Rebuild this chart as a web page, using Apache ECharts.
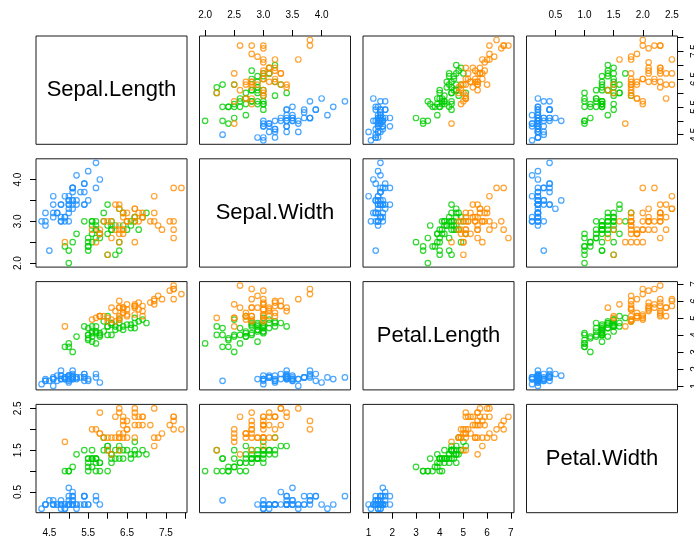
<!DOCTYPE html>
<html>
<head>
<meta charset="utf-8">
<script src="https://cdn.jsdelivr.net/npm/echarts@6/dist/echarts.min.js"></script>
<style>
  html, body { margin: 0; padding: 0; background: #fff; }
  #chart { width: 694px; height: 543px; }
</style>
</head>
<body>
<div id="chart"></div>
<script>
// Edgar Anderson's iris measurements, one array per species and variable
const setosaSepalLength = [5.1,4.9,4.7,4.6,5.0,5.4,4.6,5.0,4.4,4.9,5.4,4.8,4.8,4.3,5.8,5.7,5.4,5.1,5.7,5.1,5.4,5.1,4.6,5.1,4.8,5.0,5.0,5.2,5.2,4.7,4.8,5.4,5.2,5.5,4.9,5.0,5.5,4.9,4.4,5.1,5.0,4.5,4.4,5.0,5.1,4.8,5.1,4.6,5.3,5.0];
const setosaSepalWidth  = [3.5,3.0,3.2,3.1,3.6,3.9,3.4,3.4,2.9,3.1,3.7,3.4,3.0,3.0,4.0,4.4,3.9,3.5,3.8,3.8,3.4,3.7,3.6,3.3,3.4,3.0,3.4,3.5,3.4,3.2,3.1,3.4,4.1,4.2,3.1,3.2,3.5,3.6,3.0,3.4,3.5,2.3,3.2,3.5,3.8,3.0,3.8,3.2,3.7,3.3];
const setosaPetalLength = [1.4,1.4,1.3,1.5,1.4,1.7,1.4,1.5,1.4,1.5,1.5,1.6,1.4,1.1,1.2,1.5,1.3,1.4,1.7,1.5,1.7,1.5,1.0,1.7,1.9,1.6,1.6,1.5,1.4,1.6,1.6,1.5,1.5,1.4,1.5,1.2,1.3,1.4,1.3,1.5,1.3,1.3,1.3,1.6,1.9,1.4,1.6,1.4,1.5,1.4];
const setosaPetalWidth  = [0.2,0.2,0.2,0.2,0.2,0.4,0.3,0.2,0.2,0.1,0.2,0.2,0.1,0.1,0.2,0.4,0.4,0.3,0.3,0.3,0.2,0.4,0.2,0.5,0.2,0.2,0.4,0.2,0.2,0.2,0.2,0.4,0.1,0.2,0.2,0.2,0.2,0.1,0.2,0.2,0.3,0.3,0.2,0.6,0.4,0.3,0.2,0.2,0.2,0.2];

const versicolorSepalLength = [7.0,6.4,6.9,5.5,6.5,5.7,6.3,4.9,6.6,5.2,5.0,5.9,6.0,6.1,5.6,6.7,5.6,5.8,6.2,5.6,5.9,6.1,6.3,6.1,6.4,6.6,6.8,6.7,6.0,5.7,5.5,5.5,5.8,6.0,5.4,6.0,6.7,6.3,5.6,5.5,5.5,6.1,5.8,5.0,5.6,5.7,5.7,6.2,5.1,5.7];
const versicolorSepalWidth  = [3.2,3.2,3.1,2.3,2.8,2.8,3.3,2.4,2.9,2.7,2.0,3.0,2.2,2.9,2.9,3.1,3.0,2.7,2.2,2.5,3.2,2.8,2.5,2.8,2.9,3.0,2.8,3.0,2.9,2.6,2.4,2.4,2.7,2.7,3.0,3.4,3.1,2.3,3.0,2.5,2.6,3.0,2.6,2.3,2.7,3.0,2.9,2.9,2.5,2.8];
const versicolorPetalLength = [4.7,4.5,4.9,4.0,4.6,4.5,4.7,3.3,4.6,3.9,3.5,4.2,4.0,4.7,3.6,4.4,4.5,4.1,4.5,3.9,4.8,4.0,4.9,4.7,4.3,4.4,4.8,5.0,4.5,3.5,3.8,3.7,3.9,5.1,4.5,4.5,4.7,4.4,4.1,4.0,4.4,4.6,4.0,3.3,4.2,4.2,4.2,4.3,3.0,4.1];
const versicolorPetalWidth  = [1.4,1.5,1.5,1.3,1.5,1.3,1.6,1.0,1.3,1.4,1.0,1.5,1.0,1.4,1.3,1.4,1.5,1.0,1.5,1.1,1.8,1.3,1.5,1.2,1.3,1.4,1.4,1.7,1.5,1.0,1.1,1.0,1.2,1.6,1.5,1.6,1.5,1.3,1.3,1.3,1.2,1.4,1.2,1.0,1.3,1.2,1.3,1.3,1.1,1.3];

const virginicaSepalLength = [6.3,5.8,7.1,6.3,6.5,7.6,4.9,7.3,6.7,7.2,6.5,6.4,6.8,5.7,5.8,6.4,6.5,7.7,7.7,6.0,6.9,5.6,7.7,6.3,6.7,7.2,6.2,6.1,6.4,7.2,7.4,7.9,6.4,6.3,6.1,7.7,6.3,6.4,6.0,6.9,6.7,6.9,5.8,6.8,6.7,6.7,6.3,6.5,6.2,5.9];
const virginicaSepalWidth  = [3.3,2.7,3.0,2.9,3.0,3.0,2.5,2.9,2.5,3.6,3.2,2.7,3.0,2.5,2.8,3.2,3.0,3.8,2.6,2.2,3.2,2.8,2.8,2.7,3.3,3.2,2.8,3.0,2.8,3.0,2.8,3.8,2.8,2.8,2.6,3.0,3.4,3.1,3.0,3.1,3.1,3.1,2.7,3.2,3.3,3.0,2.5,3.0,3.4,3.0];
const virginicaPetalLength = [6.0,5.1,5.9,5.6,5.8,6.6,4.5,6.3,5.8,6.1,5.1,5.3,5.5,5.0,5.1,5.3,5.5,6.7,6.9,5.0,5.7,4.9,6.7,4.9,5.7,6.0,4.8,4.9,5.6,5.8,6.1,6.4,5.6,5.1,5.6,6.1,5.6,5.5,4.8,5.4,5.6,5.1,5.1,5.9,5.7,5.2,5.0,5.2,5.4,5.1];
const virginicaPetalWidth  = [2.5,1.9,2.1,1.8,2.2,2.1,1.7,1.8,1.8,2.5,2.0,1.9,2.1,2.0,2.4,2.3,1.8,2.2,2.3,1.5,2.3,2.0,2.0,1.8,2.1,1.8,1.8,1.8,2.1,1.6,1.9,2.0,2.2,1.5,1.4,2.3,2.4,1.8,1.8,2.1,2.4,2.3,1.9,2.3,2.5,2.3,1.9,2.0,2.3,1.8];

const varNames = ['Sepal.Length', 'Sepal.Width', 'Petal.Length', 'Petal.Width'];
const speciesColors = ['#1E90FF', '#00CD00', '#FF8C00'];

// tick marks per variable, and which of them carry labels on horizontal / vertical axes
const sepalLengthTicks = [4.5, 5.0, 5.5, 6.0, 6.5, 7.0, 7.5, 8.0];
const sepalLengthLabelsH = [4.5, 5.5, 6.5, 7.5];
const sepalLengthLabelsV = [4.5, 5.5, 6.5, 7.5];
const sepalWidthTicks = [2.0, 2.5, 3.0, 3.5, 4.0];
const sepalWidthLabelsH = [2.0, 2.5, 3.0, 3.5, 4.0];
const sepalWidthLabelsV = [2.0, 3.0, 4.0];
const petalLengthTicks = [1, 2, 3, 4, 5, 6, 7];
const petalLengthLabelsH = [1, 2, 3, 4, 5, 6, 7];
const petalLengthLabelsV = [1, 2, 3, 4, 5, 6, 7];
const petalWidthTicks = [0.5, 1.0, 1.5, 2.0, 2.5];
const petalWidthLabelsH = [0.5, 1.0, 1.5, 2.0, 2.5];
const petalWidthLabelsV = [0.5, 1.5, 2.5];

const species = [
  [setosaSepalLength, setosaSepalWidth, setosaPetalLength, setosaPetalWidth],
  [versicolorSepalLength, versicolorSepalWidth, versicolorPetalLength, versicolorPetalWidth],
  [virginicaSepalLength, virginicaSepalWidth, virginicaPetalLength, virginicaPetalWidth]
];
const ticks = [sepalLengthTicks, sepalWidthTicks, petalLengthTicks, petalWidthTicks];
const labelsH = [sepalLengthLabelsH, sepalWidthLabelsH, petalLengthLabelsH, petalWidthLabelsH];
const labelsV = [sepalLengthLabelsV, sepalWidthLabelsV, petalLengthLabelsV, petalWidthLabelsV];
const decimals = [1, 1, 0, 1];

// axis limits: data range padded by 4% on each side
const limits = varNames.map((_, v) => {
  const all = species.flatMap(s => s[v]);
  const lo = Math.min(...all), hi = Math.max(...all);
  const pad = (hi - lo) * 0.04;
  return [lo - pad, hi + pad];
});

const FONT = '"Liberation Sans", Arial, Helvetica, sans-serif';
const N = 4;
const panelLeft = j => 36 + j * 163.5;
const panelTop = i => 36 + i * 122.8;
const panelW = 151, panelH = 108.3;

const grid = [], xAxis = [], yAxis = [], series = [], graphic = [];

for (let i = 0; i < N; i++) {
  for (let j = 0; j < N; j++) {
    const g = grid.length;
    grid.push({
      left: panelLeft(j), top: panelTop(i), width: panelW, height: panelH,
      show: true, borderColor: '#1a1a1a', borderWidth: 1, backgroundColor: 'transparent',
      containLabel: false, outerBoundsMode: 'none'
    });

    // which sides of this panel carry an axis
    const top = i === 0 && j % 2 === 1;
    const bottom = i === N - 1 && j % 2 === 0;
    const left = j === 0 && i % 2 === 1;
    const right = j === N - 1 && i % 2 === 0;
    const diag = i === j;

    xAxis.push({
      gridIndex: g, type: 'value', show: !diag,
      min: limits[j][0], max: limits[j][1],
      position: top ? 'top' : 'bottom',
      axisLine: { show: false },
      splitLine: { show: false },
      axisTick: {
        show: top || bottom, inside: false, length: 6,
        customValues: ticks[j], lineStyle: { color: '#000', width: 1 }
      },
      axisLabel: {
        show: top || bottom, margin: 16, fontSize: 10, color: '#000', fontFamily: FONT,
        customValues: labelsH[j],
        formatter: v => v.toFixed(decimals[j])
      }
    });
    yAxis.push({
      gridIndex: g, type: 'value', show: !diag,
      min: limits[i][0], max: limits[i][1],
      position: right ? 'right' : 'left',
      axisLine: { show: false },
      splitLine: { show: false },
      axisTick: {
        show: left || right, inside: false, length: 6,
        customValues: ticks[i], lineStyle: { color: '#000', width: 1 }
      },
      axisLabel: {
        show: left || right, margin: 13, fontSize: 10, color: '#000', fontFamily: FONT,
        rotate: 90, customValues: labelsV[i],
        formatter: v => v.toFixed(decimals[i])
      }
    });

    if (diag) {
      graphic.push({
        type: 'text', silent: true,
        x: panelLeft(j) + panelW / 2, y: panelTop(i) + panelH / 2,
        style: {
          text: varNames[i], fill: '#000', font: '22px ' + FONT,
          align: 'center', verticalAlign: 'middle'
        }
      });
      continue;
    }

    species.forEach((s, k) => {
      series.push({
        type: 'scatter', xAxisIndex: g, yAxisIndex: g,
        symbol: 'circle', symbolSize: 5.5,
        itemStyle: { color: 'rgba(0,0,0,0)', borderColor: speciesColors[k], borderWidth: 1.2 },
        emphasis: { disabled: true },
        silent: true,
        data: s[j].map((x, n) => [x, s[i][n]])
      });
    });
  }
}

const chart = echarts.init(document.getElementById('chart'), null, { renderer: 'canvas' });
chart.setOption({
  animation: false,
  backgroundColor: '#fff',
  grid, xAxis, yAxis, series, graphic
});
</script>
</body>
</html>
